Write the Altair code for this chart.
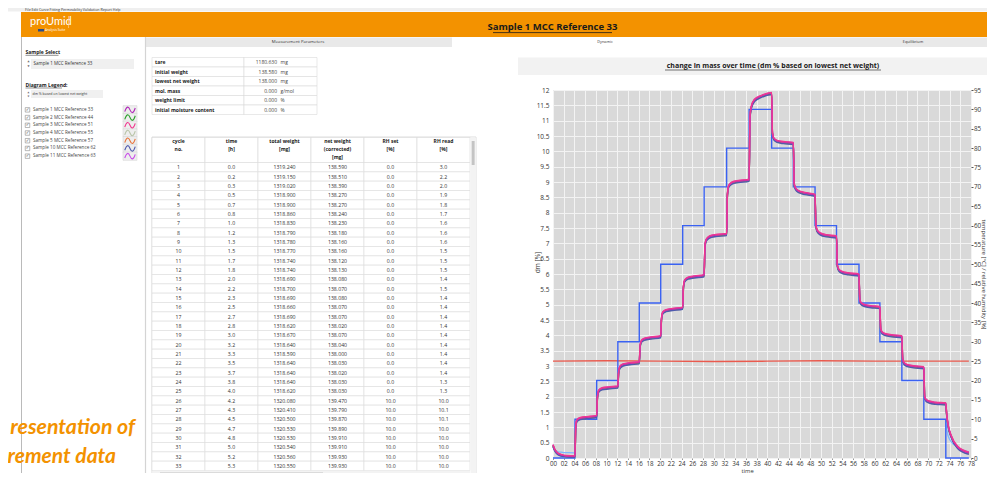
import altair as alt
import pandas as pd

UI = "Open Sans"

# ---------------- data ----------------
samples = ["Sample 1 MCC Reference 33", "Sample 2 MCC Reference 44", "Sample 3 MCC Reference 51",
           "Sample 4 MCC Reference 55", "Sample 5 MCC Reference 57", "Sample 10 MCC Reference 62",
           "Sample 11 MCC Reference 63"]
sample_colors = ["#b02ab8", "#2ca02c", "#f0388f", "#b8c4a8", "#e8743b", "#4f5aae", "#c84fe8"]
draw_order = [3, 1, 4, 5, 6, 0, 2]

time_h = [0.0, 0.3, 0.8, 1.5, 2.5, 4.1,
          4.25, 4.5, 5.1, 6.3, 8.15,
          8.3, 8.55, 9.15, 10.3, 12.1,
          12.25, 12.5, 13.1, 14.3, 16.1,
          16.25, 16.5, 17.1, 18.3, 20.1,
          20.25, 20.5, 21.1, 22.3, 24.2,
          24.35, 24.6, 25.2, 26.4, 28.2,
          28.35, 28.6, 29.2, 30.4, 32.4,
          32.55, 32.8, 33.4, 34.6, 36.6,
          36.75, 37.0, 37.6, 38.8, 40.8,
          40.95, 41.2, 41.8, 43.0, 44.85,
          45.0, 45.25, 45.85, 47.0, 48.9,
          49.05, 49.3, 49.9, 51.1, 52.9,
          53.05, 53.3, 53.9, 55.1, 57.1,
          57.25, 57.5, 58.1, 59.3, 61.0,
          61.15, 61.4, 62.0, 63.2, 65.1,
          65.25, 65.5, 66.1, 67.3, 69.2,
          69.35, 69.6, 70.2, 71.4, 73.3,
          73.45, 73.7, 74.3, 75.5, 77.6]

dm_s1 = [0.42, 0.28, 0.16, 0.10, 0.06, 0.05,
         1.05, 1.24, 1.30, 1.33, 1.37,
         2.00, 2.20, 2.27, 2.30, 2.33,
         2.80, 2.98, 3.05, 3.09, 3.12,
         3.65, 3.82, 3.89, 3.93, 3.97,
         4.55, 4.75, 4.82, 4.86, 4.90,
         5.60, 5.80, 5.88, 5.92, 5.96,
         6.90, 7.12, 7.22, 7.27, 7.30,
         8.60, 8.88, 8.98, 9.03, 9.07,
         11.10, 11.45, 11.68, 11.80, 11.90,
         10.60, 10.42, 10.34, 10.30, 10.27,
         8.95, 8.80, 8.70, 8.64, 8.58,
         7.60, 7.42, 7.32, 7.26, 7.22,
         6.30, 6.15, 6.07, 6.02, 5.98,
         5.15, 5.05, 4.99, 4.95, 4.92,
         4.20, 4.10, 4.04, 4.00, 3.97,
         3.22, 3.10, 3.03, 2.99, 2.96,
         2.00, 1.90, 1.84, 1.80, 1.78,
         1.45, 1.10, 0.72, 0.36, 0.17]
dm_s2 = [0.40, 0.27, 0.15, 0.09, 0.05, 0.04,
         1.03, 1.22, 1.28, 1.31, 1.35,
         1.98, 2.18, 2.25, 2.28, 2.31,
         2.77, 2.95, 3.03, 3.07, 3.10,
         3.63, 3.80, 3.87, 3.91, 3.95,
         4.53, 4.73, 4.80, 4.84, 4.88,
         5.58, 5.78, 5.86, 5.90, 5.94,
         6.88, 7.10, 7.20, 7.25, 7.28,
         8.58, 8.86, 8.96, 9.01, 9.05,
         11.08, 11.43, 11.66, 11.78, 11.88,
         10.58, 10.40, 10.32, 10.28, 10.25,
         8.93, 8.78, 8.68, 8.62, 8.56,
         7.58, 7.40, 7.30, 7.24, 7.20,
         6.28, 6.13, 6.05, 6.00, 5.96,
         5.13, 5.03, 4.97, 4.93, 4.90,
         4.18, 4.08, 4.02, 3.98, 3.95,
         3.20, 3.08, 3.01, 2.97, 2.94,
         1.98, 1.88, 1.82, 1.78, 1.76,
         1.43, 1.08, 0.70, 0.34, 0.15]
dm_s3 = [0.44, 0.30, 0.18, 0.12, 0.08, 0.07,
         1.07, 1.26, 1.32, 1.35, 1.39,
         2.02, 2.22, 2.29, 2.32, 2.35,
         2.82, 3.00, 3.07, 3.11, 3.14,
         3.67, 3.84, 3.91, 3.95, 3.99,
         4.57, 4.77, 4.84, 4.88, 4.92,
         5.62, 5.82, 5.90, 5.94, 5.98,
         6.92, 7.14, 7.24, 7.29, 7.32,
         8.62, 8.90, 9.00, 9.05, 9.09,
         11.12, 11.47, 11.70, 11.82, 11.92,
         10.62, 10.44, 10.36, 10.32, 10.29,
         8.97, 8.82, 8.72, 8.66, 8.60,
         7.62, 7.44, 7.34, 7.28, 7.24,
         6.32, 6.17, 6.09, 6.04, 6.00,
         5.17, 5.07, 5.01, 4.97, 4.94,
         4.22, 4.12, 4.06, 4.02, 3.99,
         3.24, 3.12, 3.05, 3.01, 2.98,
         2.02, 1.92, 1.86, 1.82, 1.80,
         1.47, 1.12, 0.74, 0.38, 0.19]
dm_s4 = [0.38, 0.25, 0.13, 0.07, 0.03, 0.02,
         1.01, 1.20, 1.26, 1.29, 1.33,
         1.96, 2.16, 2.23, 2.26, 2.29,
         2.75, 2.93, 3.01, 3.05, 3.08,
         3.61, 3.78, 3.85, 3.89, 3.93,
         4.51, 4.71, 4.78, 4.82, 4.86,
         5.56, 5.76, 5.84, 5.88, 5.92,
         6.86, 7.08, 7.18, 7.23, 7.26,
         8.56, 8.84, 8.94, 8.99, 9.03,
         11.05, 11.40, 11.63, 11.76, 11.86,
         10.56, 10.38, 10.30, 10.26, 10.23,
         8.91, 8.76, 8.66, 8.60, 8.54,
         7.56, 7.38, 7.28, 7.22, 7.18,
         6.26, 6.11, 6.03, 5.98, 5.94,
         5.11, 5.01, 4.95, 4.91, 4.88,
         4.16, 4.06, 4.00, 3.96, 3.93,
         3.18, 3.06, 2.99, 2.95, 2.92,
         1.96, 1.86, 1.80, 1.76, 1.74,
         1.41, 1.06, 0.68, 0.32, 0.13]
dm_s5 = [0.41, 0.29, 0.17, 0.10, 0.06, 0.05,
         1.04, 1.23, 1.29, 1.32, 1.36,
         1.99, 2.19, 2.26, 2.29, 2.32,
         2.79, 2.97, 3.04, 3.08, 3.11,
         3.64, 3.81, 3.88, 3.92, 3.96,
         4.54, 4.74, 4.81, 4.85, 4.89,
         5.59, 5.79, 5.87, 5.91, 5.95,
         6.89, 7.11, 7.21, 7.26, 7.29,
         8.59, 8.87, 8.97, 9.02, 9.06,
         11.09, 11.44, 11.67, 11.79, 11.89,
         10.59, 10.41, 10.33, 10.29, 10.26,
         8.94, 8.79, 8.69, 8.63, 8.57,
         7.59, 7.41, 7.31, 7.25, 7.21,
         6.29, 6.14, 6.06, 6.01, 5.97,
         5.14, 5.04, 4.98, 4.94, 4.91,
         4.19, 4.09, 4.03, 3.99, 3.96,
         3.21, 3.09, 3.02, 2.98, 2.95,
         1.99, 1.89, 1.83, 1.79, 1.77,
         1.44, 1.09, 0.71, 0.35, 0.16]
dm_s10 = [0.37, 0.24, 0.12, 0.06, 0.03, 0.02,
          1.00, 1.19, 1.25, 1.28, 1.32,
          1.95, 2.15, 2.22, 2.25, 2.28,
          2.74, 2.92, 3.00, 3.04, 3.07,
          3.60, 3.77, 3.84, 3.88, 3.92,
          4.50, 4.70, 4.77, 4.81, 4.85,
          5.55, 5.75, 5.83, 5.87, 5.91,
          6.85, 7.07, 7.17, 7.22, 7.25,
          8.55, 8.83, 8.93, 8.98, 9.02,
          11.04, 11.39, 11.62, 11.75, 11.85,
          10.55, 10.37, 10.29, 10.25, 10.22,
          8.90, 8.75, 8.65, 8.59, 8.53,
          7.55, 7.37, 7.27, 7.21, 7.17,
          6.25, 6.10, 6.02, 5.97, 5.93,
          5.10, 5.00, 4.94, 4.90, 4.87,
          4.15, 4.05, 3.99, 3.95, 3.92,
          3.17, 3.05, 2.98, 2.94, 2.91,
          1.95, 1.85, 1.79, 1.75, 1.73,
          1.40, 1.05, 0.67, 0.31, 0.12]
dm_s11 = [0.43, 0.29, 0.17, 0.11, 0.07, 0.06,
          1.06, 1.25, 1.31, 1.34, 1.38,
          2.01, 2.21, 2.28, 2.31, 2.34,
          2.81, 2.99, 3.06, 3.10, 3.13,
          3.66, 3.83, 3.90, 3.94, 3.98,
          4.56, 4.76, 4.83, 4.87, 4.91,
          5.61, 5.81, 5.89, 5.93, 5.97,
          6.91, 7.13, 7.23, 7.28, 7.31,
          8.61, 8.89, 8.99, 9.04, 9.08,
          11.11, 11.46, 11.69, 11.81, 11.91,
          10.61, 10.43, 10.35, 10.31, 10.28,
          8.96, 8.81, 8.71, 8.65, 8.59,
          7.61, 7.43, 7.33, 7.27, 7.23,
          6.31, 6.16, 6.08, 6.03, 5.99,
          5.16, 5.06, 5.00, 4.96, 4.93,
          4.21, 4.11, 4.05, 4.01, 3.98,
          3.23, 3.11, 3.04, 3.00, 2.97,
          2.01, 1.91, 1.85, 1.81, 1.79,
          1.46, 1.11, 0.73, 0.37, 0.18]
dm_all = [dm_s1, dm_s2, dm_s3, dm_s4, dm_s5, dm_s10, dm_s11]

rh_step_t = [0.0, 4.1, 8.15, 12.1, 16.1, 20.1, 24.2, 28.2, 32.4, 36.6, 40.8,
             44.85, 48.9, 52.9, 57.1, 61.0, 65.1, 69.2, 73.3, 77.6]
rh_set = [0, 10, 20, 30, 40, 50, 60, 70, 80, 90, 80, 70, 60, 50, 40, 30, 20, 10, 0, 0]

rh_read_t1 = [0.0, 0.2, 0.3, 0.5, 0.7, 0.8, 1.0, 1.5, 2.0, 3.0, 4.0, 4.1]
rh_read_v1 = [3.0, 2.2, 2.0, 1.9, 1.8, 1.7, 1.6, 1.5, 1.4, 1.4, 1.3, 1.3]
rh_read_t2 = [73.3, 73.45, 73.7, 74.0, 74.5, 75.5, 76.5, 77.6]
rh_read_v2 = [10.0, 7.5, 5.8, 4.8, 3.8, 2.7, 2.0, 1.6]

temp_t = [0.0, 10.0, 20.0, 30.0, 40.0, 50.0, 60.0, 70.0, 77.6]
temp_c = [25.0, 25.1, 25.0, 24.9, 25.0, 25.1, 25.0, 25.0, 25.0]

x_ticks = [0, 2, 4, 6, 8, 10, 12, 14, 16, 18, 20, 22, 24, 26, 28, 30, 32, 34, 36, 38,
           40, 42, 44, 46, 48, 50, 52, 54, 56, 58, 60, 62, 64, 66, 68, 70, 72, 74, 76, 78]
y_ticks = [0, 0.5, 1, 1.5, 2, 2.5, 3, 3.5, 4, 4.5, 5, 5.5, 6, 6.5, 7, 7.5, 8, 8.5, 9, 9.5,
           10, 10.5, 11, 11.5, 12]
y2_ticks = [0, 5, 10, 15, 20, 25, 30, 35, 40, 45, 50, 55, 60, 65, 70, 75, 80, 85, 90, 95]

param_names = ["tare", "initial weight", "lowest net weight", "mol. mass", "weight limit",
               "initial moisture content"]
param_values = [1180.630, 138.580, 138.000, 0.000, 0.000, 0.000]
param_units = ["mg", "mg", "mg", "g/mol", "%", "%"]

tbl_cols = ["cycle", "time", "total", "net", "rhset", "rhread"]
tbl_headers = ["cycle\nno.", "time\n[h]", "total weight\n[mg]", "net weight\n(corrected)\n[mg]",
               "RH set\n[%]", "RH read\n[%]"]
cyc = list(range(1, 34))
cyc_time = [0.0, 0.2, 0.3, 0.5, 0.7, 0.8, 1.0, 1.2, 1.3, 1.5, 1.7, 1.8, 2.0, 2.2, 2.3, 2.5, 2.7,
            2.8, 3.0, 3.2, 3.3, 3.5, 3.7, 3.8, 4.0, 4.2, 4.3, 4.5, 4.7, 4.8, 5.0, 5.2, 5.3]
total_w = [1319.240, 1319.150, 1319.020, 1318.900, 1318.900, 1318.860, 1318.830, 1318.790,
           1318.780, 1318.770, 1318.740, 1318.740, 1318.690, 1318.700, 1318.690, 1318.660,
           1318.690, 1318.620, 1318.670, 1318.640, 1318.590, 1318.640, 1318.640, 1318.640,
           1318.620, 1320.080, 1320.410, 1320.500, 1320.530, 1320.530, 1320.540, 1320.560,
           1320.550]
net_w = [138.590, 138.510, 138.390, 138.270, 138.270, 138.240, 138.230, 138.180, 138.160,
         138.160, 138.120, 138.130, 138.080, 138.070, 138.080, 138.070, 138.070, 138.020,
         138.070, 138.040, 138.000, 138.030, 138.020, 138.030, 138.030, 139.470, 139.790,
         139.870, 139.890, 139.910, 139.910, 139.930, 139.930]
rh_set_tbl = [0.0] * 25 + [10.0] * 8
rh_read_tbl = [3.0, 2.2, 2.0, 1.9, 1.8, 1.7, 1.6, 1.6, 1.6, 1.5, 1.5, 1.5, 1.4, 1.5, 1.4, 1.4,
               1.4, 1.4, 1.4, 1.4, 1.4, 1.4, 1.4, 1.3, 1.3, 10.0, 10.1, 10.1, 10.0, 10.0, 10.0,
               10.0, 10.0]

# visible part of the slide caption behind the screenshot
caption_lines = ["resentation of", "rement data"]

# ---------------- frames ----------------
curve_rows = []
for i in draw_order:
    for t, v in zip(time_h, dm_all[i]):
        curve_rows.append({"sample": samples[i], "time": t, "dm": v})
curve_df = pd.DataFrame(curve_rows)
step_df = pd.DataFrame({"time": rh_step_t, "rh": rh_set})
read_df = pd.DataFrame({"time": rh_read_t1 + rh_read_t2, "rh": rh_read_v1 + rh_read_v2,
                        "seg": [1] * len(rh_read_t1) + [2] * len(rh_read_t2)})
temp_df = pd.DataFrame({"time": temp_t, "temp": temp_c})

cells = []
for k in range(33):
    vals = [str(cyc[k]), f"{cyc_time[k]:.1f}", f"{total_w[k]:.3f}", f"{net_w[k]:.3f}",
            f"{rh_set_tbl[k]:.1f}", f"{rh_read_tbl[k]:.1f}"]
    for c, v in zip(tbl_cols, vals):
        cells.append({"row": cyc[k], "col": c, "txt": v})
cell_df = pd.DataFrame(cells)
head_df = pd.DataFrame({"col": tbl_cols, "txt": tbl_headers})
param_df = pd.DataFrame({"name": param_names,
                         "val": [f"{v:.3f}" for v in param_values], "unit": param_units})
leg_df = pd.DataFrame({"sample": samples})

# ---------------- layout helpers (UI chrome) ----------------
X0, Y0 = 553, 90          # plot origin in page pixels
W, H = 418, 368
one = pd.DataFrame({"k": [0]})


def vx(x):
    return alt.value(x - X0)


def vy(y):
    return alt.value(y - Y0)


def box(x1, y1, x2, y2, fill, stroke=None, sw=0.7):
    kw = {"fill": fill}
    if stroke:
        kw.update(stroke=stroke, strokeWidth=sw)
    return alt.Chart(one).mark_rect(**kw).encode(x=vx(x1), x2=vx(x2), y=vy(y1), y2=vy(y2))


def label(x, y, txt, size=5, weight="normal", align="left", color="#222", font=UI,
          style="normal"):
    return alt.Chart(one).mark_text(text=txt, fontSize=size, fontWeight=weight, align=align,
                                    baseline="middle", color=color, font=font,
                                    fontStyle=style).encode(x=vx(x), y=vy(y))


def hline(x1, x2, y, color, sw=0.6):
    return alt.Chart(one).mark_rule(color=color, strokeWidth=sw).encode(
        x=vx(x1), x2=vx(x2), y=vy(y))


def vline(x, y1, y2, color, sw=0.8):
    return alt.Chart(one).mark_rule(color=color, strokeWidth=sw).encode(
        x=vx(x), y=vy(y1), y2=vy(y2))


ORANGE = "#F39200"
layers = []
# window chrome
layers += [
    box(0, 0, 1000, 11.5, "#efefef"),
    box(21, 12, 1000, 37, ORANGE),
    label(25, 9.9, "File   Edit   Curve Fitting   Permeability   Validation   Report   Help", 3.6,
          color="#333"),
    label(30, 22, "proUmid", 11, color="white", font="Lato"),
    vline(68.5, 16, 28, "#ffd9a0", 0.6),
    box(38, 29, 44, 31.5, "#2b4c86"),
    label(45, 30.3, "Analysis Suite", 3.2, color="white"),
    label(552.5, 27, "Sample 1 MCC Reference 33", 9.5, "bold", "center", "#1a1a1a"),
    hline(493, 612, 32.6, "#1a1a1a", 0.8),
    box(146, 37.5, 452, 47, "#e9e9e9"),
    box(760, 37.5, 1000, 47, "#e9e9e9"),
    label(298, 42.3, "Measurement Parameters", 4.3, align="center", color="#333"),
    label(605, 42.3, "Dynamic", 3.8, align="center", color="#333"),
    label(913, 42.3, "Equilibrium", 3.8, align="center", color="#333"),
    vline(21.5, 37, 490, "#a8a8a8", 0.8),
    vline(145.5, 37, 490, "#d4d4d4", 1.2),
]
# left panel
leg_y = alt.Y("sample:N", scale=alt.Scale(type="point", domain=samples, range=[106 - Y0, 160 - Y0]),
              axis=None)
color_enc = alt.Color("sample:N", scale=alt.Scale(domain=samples, range=sample_colors), legend=None)
WAVE = "M-1,0.35C-0.65,-0.75 -0.3,-0.75 0,0C0.3,0.75 0.65,0.75 1,-0.35"
layers += [
    label(25.5, 52.3, "Sample Select", 5, "bold"),
    hline(25.5, 58.5, 55.3, "#222", 0.5),
    label(28.5, 61.5, "▲", 2.6, align="center", color="#666", font="DejaVu Sans"),
    label(28.5, 66, "▼", 2.6, align="center", color="#666", font="DejaVu Sans"),
    box(31, 59, 134, 69, "#f0f0f0"),
    label(33.5, 64, "Sample 1 MCC Reference 33", 4.5, color="#333"),
    label(25.5, 85, "Diagram Legend:", 5, "bold"),
    hline(25.5, 62, 88, "#222", 0.5),
    label(28.5, 92, "▲", 2.4, align="center", color="#666", font="DejaVu Sans"),
    label(28.5, 96, "▼", 2.4, align="center", color="#666", font="DejaVu Sans"),
    box(31, 90, 103, 98, "#f0f0f0"),
    label(32.5, 94, "dm % based on lowest net weight", 3.5, color="#333"),
    alt.Chart(leg_df).mark_square(size=20, fill="white", stroke="#8a8a8a", strokeWidth=0.6,
                                  opacity=1).encode(x=vx(27.5), y=leg_y),
    alt.Chart(leg_df).mark_text(text="✓", fontSize=4.5, font="DejaVu Sans", color="#333").encode(
        x=vx(27.6), y=leg_y),
    alt.Chart(leg_df).mark_text(align="left", baseline="middle", fontSize=4.6, font=UI,
                                color="#444").encode(x=vx(33), y=leg_y, text="sample:N"),
    alt.Chart(leg_df).mark_point(shape="M-1,-0.6L1,-0.6L1,0.6L-1,0.6Z", size=196, filled=True,
                                 fill="#eeeeee", stroke="#d2d2d2", strokeWidth=0.5,
                                 opacity=1).encode(x=vx(130), y=leg_y),
    alt.Chart(leg_df).mark_point(shape=WAVE, size=110, filled=False, strokeWidth=1.1,
                                 opacity=1).encode(x=vx(130), y=leg_y, color=color_enc),
]
# parameter table
prow = alt.Y("name:N", scale=alt.Scale(type="band", domain=param_names, range=[57.5 - Y0, 114.5 - Y0],
                                       paddingInner=0, paddingOuter=0), axis=None)
layers += [
    alt.Chart(param_df).mark_rect(fill="white", stroke="#dadada", strokeWidth=0.6).encode(
        x=vx(152), x2=vx(244), y=prow),
    alt.Chart(param_df).mark_rect(fill="white", stroke="#dadada", strokeWidth=0.6).encode(
        x=vx(244), x2=vx(317), y=prow),
    alt.Chart(param_df).mark_text(align="left", fontSize=5, fontWeight="bold", font=UI,
                                  color="#222").encode(x=vx(155), y=prow, text="name:N"),
    alt.Chart(param_df).mark_text(align="right", fontSize=5, font=UI, color="#444").encode(
        x=vx(277), y=prow, text="val:N"),
    alt.Chart(param_df).mark_text(align="left", fontSize=5, font=UI, color="#444").encode(
        x=vx(280.5), y=prow, text="unit:N"),
]
# data table
tx = alt.X("col:N", scale=alt.Scale(type="band", domain=tbl_cols, range=[152 - X0, 470 - X0],
                                    paddingInner=0, paddingOuter=0), axis=None)
ty = alt.Y("row:O", scale=alt.Scale(type="band", domain=cyc, range=[162.5 - Y0, 470.5 - Y0],
                                    paddingInner=0, paddingOuter=0), axis=None)
layers += [
    box(152, 137, 476, 478, "white", "#cfcfcf", 0.7),
    alt.Chart(head_df).mark_rect(fill="white", stroke="#d6d6d6", strokeWidth=0.6).encode(
        x=tx, y=vy(137.5), y2=vy(162.5)),
    alt.Chart(head_df).mark_text(lineBreak="\n", baseline="top", fontSize=5, fontWeight="bold",
                                 font=UI, color="#222", lineHeight=7.8).encode(
        x=tx, y=vy(139), text="txt:N"),
    alt.Chart(cell_df).mark_rect(fill="white", stroke="#dcdcdc", strokeWidth=0.6).encode(
        x=tx, y=ty),
    alt.Chart(cell_df).mark_text(fontSize=5.2, font=UI, color="#333", baseline="middle").encode(
        x=tx, y=ty, text="txt:N"),
    box(470.5, 137.5, 476, 478, "#f3f3f3"),
    box(471.7, 141, 474.6, 165, "#c4c4c4"),
    box(152.5, 470.8, 470, 477, "#f3f3f3"),
    box(160, 472.5, 323, 475, "#c4c4c4"),
]
# chart title band
layers += [
    box(518, 57.5, 1000, 75, "#f2f2f2"),
    label(773, 66, "change in mass over time (dm % based on lowest net weight)", 7, "bold",
          "center", "#1a1a1a"),
    hline(665, 881, 70, "#1a1a1a", 0.6),
]

# ---------------- the plot ----------------
xs = alt.Scale(domain=[0, 78], nice=False, zero=False)
curves = alt.Chart(curve_df).mark_line(strokeWidth=1.4, interpolate="monotone").encode(
    x=alt.X("time:Q", scale=xs, axis=alt.Axis(
        values=x_ticks, format="02d", labelFontSize=6.2, labelFont=UI, labelColor="#333",
        tickSize=1.5, tickColor="#9a9a9a", domain=False, grid=True, gridColor="#f3f3f3",
        gridWidth=1, labelPadding=0.5, labelOverlap=False, labelFlush=False,
        title="time", titleFont=UI, titleFontSize=5.8, titleFontWeight="normal",
        titleColor="#333", titleX=188, titleY=12, titleAlign="left", titleBaseline="middle")),
    y=alt.Y("dm:Q", scale=alt.Scale(domain=[0, 12], nice=False), axis=alt.Axis(
        values=y_ticks, labelExpr="datum.value", labelFontSize=6.5, labelFont=UI,
        labelColor="#333", ticks=False, domain=False, grid=True, gridColor="#f3f3f3",
        gridWidth=1, labelPadding=4, title="dm [%]", titleFont=UI, titleFontSize=6.5,
        titleFontWeight="normal", titleColor="#333", titleX=-16, titleY=172,
        titleAlign="center", titleBaseline="middle")),
    color=color_enc,
)
rh_read = alt.Chart(read_df).mark_line(color="#7db8ff", strokeWidth=1.3).encode(
    x=alt.X("time:Q", scale=xs, axis=None),
    y=alt.Y("rh:Q", scale=alt.Scale(domain=[0, 95], nice=False), axis=None),
    detail="seg:N",
)
rh_step = alt.Chart(step_df).mark_line(color="#3a62f2", strokeWidth=1.4,
                                       interpolate="step-after").encode(
    x=alt.X("time:Q", scale=xs, axis=None),
    y=alt.Y("rh:Q", scale=alt.Scale(domain=[0, 95], nice=False), axis=alt.Axis(
        orient="right", values=y2_ticks, labelFontSize=6.3, labelFont=UI, labelColor="#333",
        tickSize=2, tickColor="#555", labelPadding=0.5, domain=False, grid=False,
        title="temperature [°C] / relative humidity [%]", titleFont=UI, titleFontSize=6,
        titleFontWeight="normal", titleColor="#333", titleAngle=90, titleX=12, titleY=184,
        titleAlign="center", titleBaseline="middle")),
)
temp = alt.Chart(temp_df).mark_line(color="#ea5a4e", strokeWidth=1.4).encode(
    x=alt.X("time:Q", scale=xs, axis=None),
    y=alt.Y("temp:Q", scale=alt.Scale(domain=[0, 95], nice=False), axis=None),
)

layers += [temp, rh_read, rh_step, curves]

# slide overlay text (only its visible part, as in the screenshot)
layers += [
    label(135, 428, caption_lines[0], 21.3, "bold", "right", ORANGE, "Lato", "italic"),
    label(116, 457, caption_lines[1], 21, "bold", "right", ORANGE, "Lato", "italic"),
]

chart = alt.layer(*layers).resolve_scale(x="independent", y="independent").properties(
    width=W, height=H,
    autosize=alt.AutoSizeParams(type="none"),
    padding={"left": 545, "top": 82, "right": 16, "bottom": 15},
    background="white",
).configure_view(stroke=None, fill="#d9d9d9")

chart.save("out.html", embed_options={"renderer": "svg", "actions": False})
